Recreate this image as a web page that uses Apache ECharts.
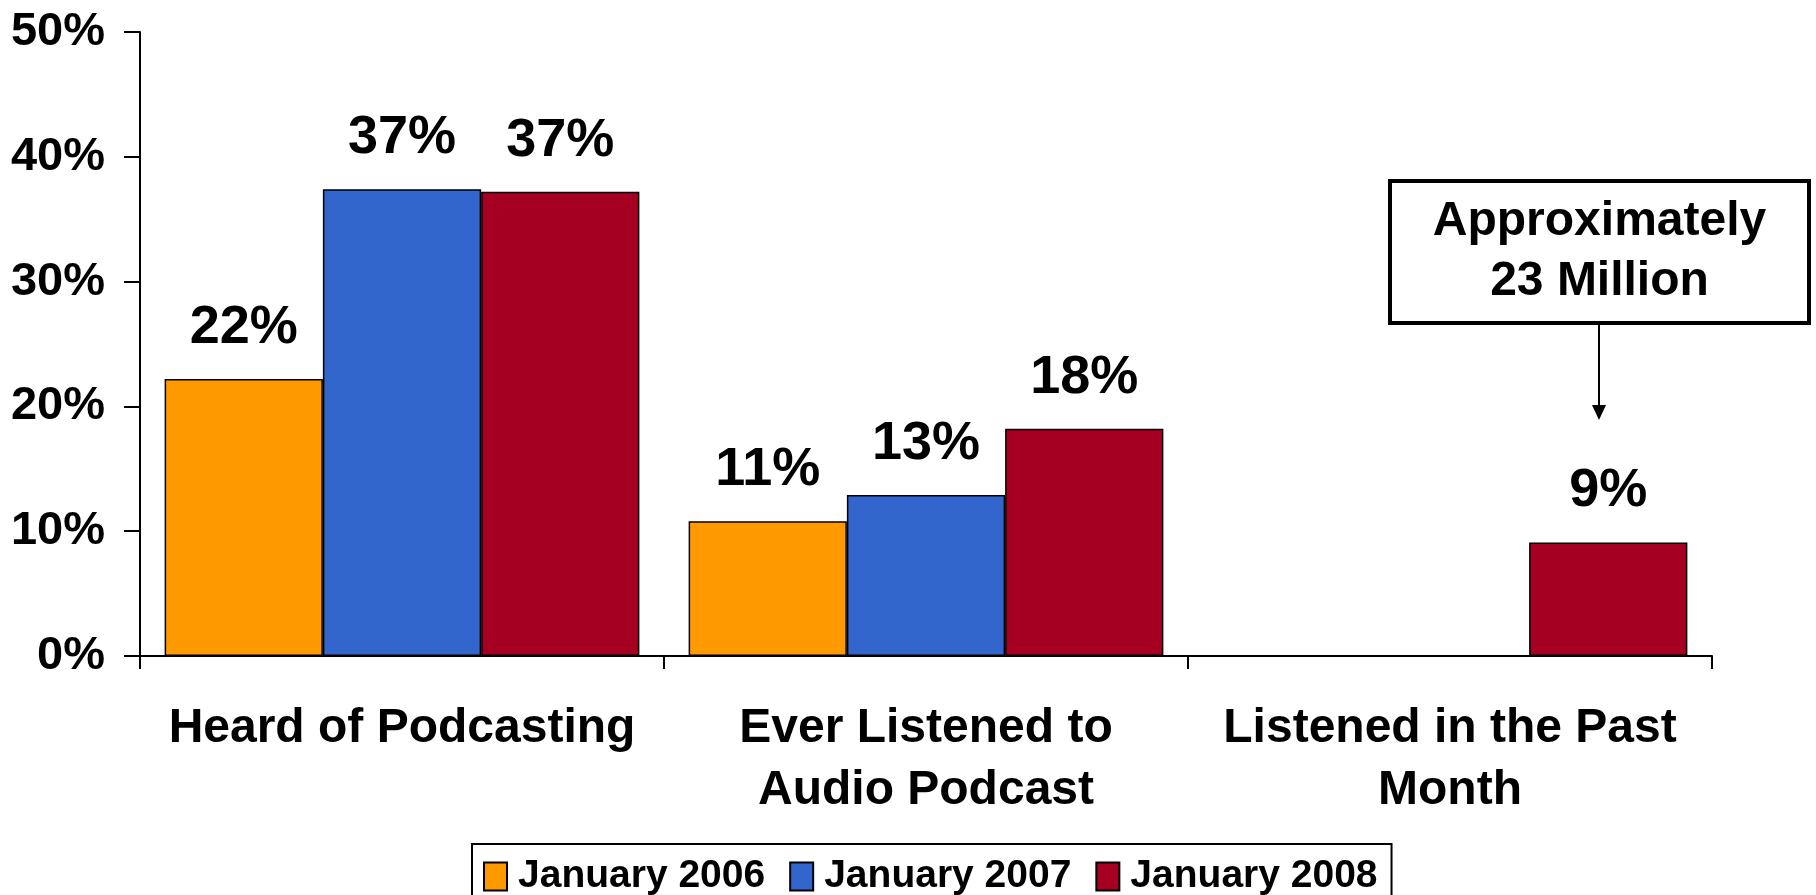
<!DOCTYPE html>
<html>
<head>
<meta charset="utf-8">
<script src="https://cdn.jsdelivr.net/npm/echarts@6/dist/echarts.min.js"></script>
<style>
  html, body { margin: 0; padding: 0; background: #fff; }
  #chart { width: 1816px; height: 895px; }
</style>
</head>
<body>
<div id="chart"></div>
<script>
const categories = ['Heard of Podcasting', 'Ever Listened to\nAudio Podcast', 'Listened in the Past\nMonth'];
const seriesNames = ['January 2006', 'January 2007', 'January 2008'];
const jan2006 = [22.2, 10.8, null];
const jan2007 = [37.4, 12.9, null];
const jan2008 = [37.2, 18.2, 9.1];
const yTicks = [0, 10, 20, 30, 40, 50];
const annotationLines = ['Approximately', '23 Million'];

const colors = ['#FF9900', '#3366CC', '#A50021'];
const FONT = '"Liberation Sans", Arial, sans-serif';

const chart = echarts.init(document.getElementById('chart'), null, { renderer: 'canvas' });

function makeSeries(name, data, color) {
  return {
    name: name,
    type: 'bar',
    data: data,
    barGap: '0%',
    barCategoryGap: '9.4%',
    itemStyle: { color: color, borderColor: '#000', borderWidth: 1.5 },
    label: {
      show: true,
      position: 'top',
      distance: 24,
      fontFamily: FONT,
      fontWeight: 'bold',
      fontSize: 54,
      color: '#000',
      formatter: p => (p.value == null ? '' : Math.round(p.value) + '%')
    },
    animation: false
  };
}

const option = {
  animation: false,
  backgroundColor: '#fff',
  grid: { left: 140, right: 104, top: 32, bottom: 239, containLabel: false },
  legend: {
    data: seriesNames,
    left: 472,
    top: 844,
    padding: [13, 14, 13, 11],
    borderColor: '#000',
    borderWidth: 2,
    itemWidth: 23,
    itemHeight: 28,
    itemGap: 24,
    icon: 'rect',
    itemStyle: { borderColor: '#000', borderWidth: 2 },
    textStyle: { fontFamily: FONT, fontWeight: 'bold', fontSize: 39, color: '#000', padding: [0, 0, 0, 6] }
  },
  xAxis: {
    type: 'category',
    data: categories,
    boundaryGap: true,
    axisLine: { lineStyle: { color: '#000', width: 2 } },
    axisTick: { show: true, length: 13, lineStyle: { color: '#000', width: 2 } },
    axisLabel: {
      interval: 0,
      margin: 42,
      fontFamily: FONT,
      fontWeight: 'bold',
      fontSize: 48,
      lineHeight: 62,
      color: '#000'
    }
  },
  yAxis: {
    type: 'value',
    min: yTicks[0],
    max: yTicks[yTicks.length - 1],
    interval: yTicks[1] - yTicks[0],
    splitLine: { show: false },
    axisLine: { show: true, lineStyle: { color: '#000', width: 2 } },
    axisTick: { show: true, length: 16, lineStyle: { color: '#000', width: 2 } },
    axisLabel: {
      margin: 35,
      fontFamily: FONT,
      fontWeight: 'bold',
      fontSize: 47,
      color: '#000',
      formatter: '{value}%'
    }
  },
  series: [
    makeSeries(seriesNames[0], jan2006, colors[0]),
    makeSeries(seriesNames[1], jan2007, colors[1]),
    makeSeries(seriesNames[2], jan2008, colors[2])
  ],
  graphic: [
    {
      type: 'group',
      left: 1388,
      top: 179,
      children: [
        {
          type: 'rect',
          shape: { x: 0, y: 0, width: 419, height: 142 },
          style: { fill: '#fff', stroke: '#000', lineWidth: 4 }
        },
        {
          type: 'text',
          x: 209.5,
          y: 71,
          style: {
            text: annotationLines.join('\n'),
            fontFamily: FONT,
            fontWeight: 'bold',
            fontSize: 48,
            lineHeight: 60,
            fill: '#000',
            align: 'center',
            verticalAlign: 'middle'
          }
        }
      ]
    },
    {
      type: 'line',
      shape: { x1: 1599, y1: 323, x2: 1599, y2: 408 },
      style: { stroke: '#000', lineWidth: 2 }
    },
    {
      type: 'polygon',
      shape: { points: [[1592, 405], [1606, 405], [1599, 420]] },
      style: { fill: '#000' }
    }
  ]
};

chart.setOption(option);
</script>
</body>
</html>
